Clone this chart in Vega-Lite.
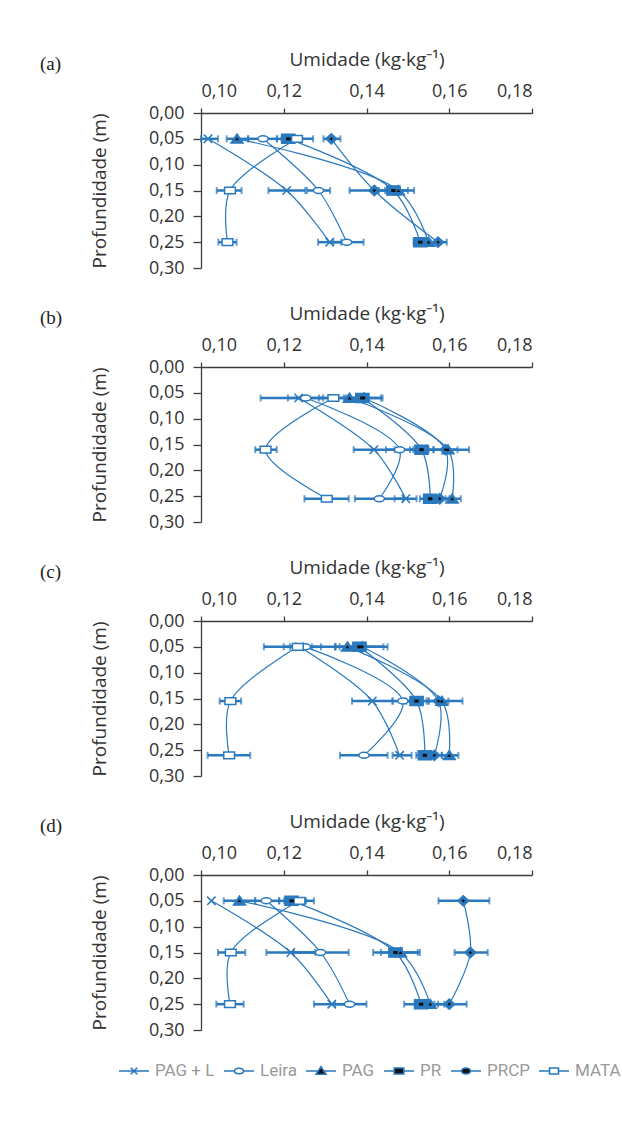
{
  "$schema": "https://vega.github.io/schema/vega-lite/v6.json",
  "padding": {"left": 40, "top": 50, "right": 0, "bottom": 0},
  "spacing": 27,
  "resolve": {"scale": {"shape": "independent", "fill": "independent", "stroke": "independent"}, "legend": {"shape": "independent", "fill": "independent", "stroke": "independent"}},
  "datasets": {
    "d": [
      {"p":"a","t":"PAG + L","d":0.05,"m":0.1017,"lo":0.1000,"hi":0.1041},
      {"p":"a","t":"PAG + L","d":0.15,"m":0.1207,"lo":0.1163,"hi":0.1252},
      {"p":"a","t":"PAG + L","d":0.25,"m":0.1311,"lo":0.1283,"hi":0.1339},
      {"p":"a","t":"Leira","d":0.05,"m":0.1150,"lo":0.1114,"hi":0.1184},
      {"p":"a","t":"Leira","d":0.15,"m":0.1284,"lo":0.1256,"hi":0.1312},
      {"p":"a","t":"Leira","d":0.25,"m":0.1352,"lo":0.1320,"hi":0.1393},
      {"p":"a","t":"PAG","d":0.05,"m":0.1087,"lo":0.1062,"hi":0.1114},
      {"p":"a","t":"PAG","d":0.15,"m":0.1477,"lo":0.1445,"hi":0.1515},
      {"p":"a","t":"PAG","d":0.25,"m":0.1550,"lo":0.1530,"hi":0.1570},
      {"p":"a","t":"PR","d":0.05,"m":0.1211,"lo":0.1183,"hi":0.1240},
      {"p":"a","t":"PR","d":0.15,"m":0.1465,"lo":0.1430,"hi":0.1500},
      {"p":"a","t":"PR","d":0.25,"m":0.1530,"lo":0.1514,"hi":0.1546},
      {"p":"a","t":"PRCP","d":0.05,"m":0.1315,"lo":0.1296,"hi":0.1337},
      {"p":"a","t":"PRCP","d":0.15,"m":0.1419,"lo":0.1359,"hi":0.1480},
      {"p":"a","t":"PRCP","d":0.25,"m":0.1573,"lo":0.1555,"hi":0.1594},
      {"p":"a","t":"MATA","d":0.05,"m":0.1232,"lo":0.1195,"hi":0.1271},
      {"p":"a","t":"MATA","d":0.15,"m":0.1070,"lo":0.1038,"hi":0.1098},
      {"p":"a","t":"MATA","d":0.25,"m":0.1064,"lo":0.1042,"hi":0.1086},

      {"p":"b","t":"PAG + L","d":0.06,"m":0.1236,"lo":0.1144,"hi":0.1328},
      {"p":"b","t":"PAG + L","d":0.16,"m":0.1418,"lo":0.1369,"hi":0.1468},
      {"p":"b","t":"PAG + L","d":0.255,"m":0.1495,"lo":0.1468,"hi":0.1521},
      {"p":"b","t":"Leira","d":0.06,"m":0.1253,"lo":0.1210,"hi":0.1295},
      {"p":"b","t":"Leira","d":0.16,"m":0.1480,"lo":0.1447,"hi":0.1513},
      {"p":"b","t":"Leira","d":0.255,"m":0.1431,"lo":0.1372,"hi":0.1488},
      {"p":"b","t":"PAG","d":0.06,"m":0.1359,"lo":0.1325,"hi":0.1393},
      {"p":"b","t":"PAG","d":0.16,"m":0.1597,"lo":0.1550,"hi":0.1648},
      {"p":"b","t":"PAG","d":0.255,"m":0.1607,"lo":0.1591,"hi":0.1628},
      {"p":"b","t":"PR","d":0.06,"m":0.1390,"lo":0.1345,"hi":0.1435},
      {"p":"b","t":"PR","d":0.16,"m":0.1533,"lo":0.1505,"hi":0.1562},
      {"p":"b","t":"PR","d":0.255,"m":0.1554,"lo":0.1529,"hi":0.1578},
      {"p":"b","t":"PRCP","d":0.06,"m":0.1394,"lo":0.1350,"hi":0.1439},
      {"p":"b","t":"PRCP","d":0.16,"m":0.1591,"lo":0.1562,"hi":0.1620},
      {"p":"b","t":"PRCP","d":0.255,"m":0.1577,"lo":0.1553,"hi":0.1600},
      {"p":"b","t":"MATA","d":0.06,"m":0.1320,"lo":0.1285,"hi":0.1355},
      {"p":"b","t":"MATA","d":0.16,"m":0.1156,"lo":0.1131,"hi":0.1183},
      {"p":"b","t":"MATA","d":0.255,"m":0.1304,"lo":0.1250,"hi":0.1357},

      {"p":"c","t":"PAG + L","d":0.05,"m":0.1238,"lo":0.1152,"hi":0.1324},
      {"p":"c","t":"PAG + L","d":0.155,"m":0.1414,"lo":0.1365,"hi":0.1463},
      {"p":"c","t":"PAG + L","d":0.26,"m":0.1480,"lo":0.1463,"hi":0.1509},
      {"p":"c","t":"Leira","d":0.05,"m":0.1252,"lo":0.1215,"hi":0.1290},
      {"p":"c","t":"Leira","d":0.155,"m":0.1488,"lo":0.1463,"hi":0.1513},
      {"p":"c","t":"Leira","d":0.26,"m":0.1394,"lo":0.1336,"hi":0.1451},
      {"p":"c","t":"PAG","d":0.05,"m":0.1354,"lo":0.1325,"hi":0.1383},
      {"p":"c","t":"PAG","d":0.155,"m":0.1582,"lo":0.1545,"hi":0.1632},
      {"p":"c","t":"PAG","d":0.26,"m":0.1600,"lo":0.1582,"hi":0.1622},
      {"p":"c","t":"PR","d":0.05,"m":0.1383,"lo":0.1325,"hi":0.1441},
      {"p":"c","t":"PR","d":0.155,"m":0.1521,"lo":0.1496,"hi":0.1550},
      {"p":"c","t":"PR","d":0.26,"m":0.1541,"lo":0.1520,"hi":0.1562},
      {"p":"c","t":"PRCP","d":0.05,"m":0.1390,"lo":0.1335,"hi":0.1451},
      {"p":"c","t":"PRCP","d":0.155,"m":0.1574,"lo":0.1550,"hi":0.1598},
      {"p":"c","t":"PRCP","d":0.26,"m":0.1564,"lo":0.1545,"hi":0.1582},
      {"p":"c","t":"MATA","d":0.05,"m":0.1234,"lo":0.1200,"hi":0.1268},
      {"p":"c","t":"MATA","d":0.155,"m":0.1071,"lo":0.1045,"hi":0.1097},
      {"p":"c","t":"MATA","d":0.26,"m":0.1068,"lo":0.1016,"hi":0.1119},

      {"p":"d","t":"PAG + L","d":0.05,"m":0.1025,"lo":null,"hi":null},
      {"p":"d","t":"PAG + L","d":0.15,"m":0.1217,"lo":0.1158,"hi":0.1276},
      {"p":"d","t":"PAG + L","d":0.25,"m":0.1316,"lo":0.1273,"hi":0.1359},
      {"p":"d","t":"Leira","d":0.05,"m":0.1158,"lo":0.1131,"hi":0.1189},
      {"p":"d","t":"Leira","d":0.15,"m":0.1289,"lo":0.1224,"hi":0.1357},
      {"p":"d","t":"Leira","d":0.25,"m":0.1359,"lo":0.1324,"hi":0.1400},
      {"p":"d","t":"PAG","d":0.05,"m":0.1093,"lo":0.1055,"hi":0.1131},
      {"p":"d","t":"PAG","d":0.15,"m":0.1482,"lo":0.1435,"hi":0.1529},
      {"p":"d","t":"PAG","d":0.25,"m":0.1554,"lo":0.1520,"hi":0.1588},
      {"p":"d","t":"PR","d":0.05,"m":0.1219,"lo":0.1189,"hi":0.1254},
      {"p":"d","t":"PR","d":0.15,"m":0.1470,"lo":0.1416,"hi":0.1524},
      {"p":"d","t":"PR","d":0.25,"m":0.1532,"lo":0.1491,"hi":0.1573},
      {"p":"d","t":"PRCP","d":0.05,"m":0.1634,"lo":0.1574,"hi":0.1697},
      {"p":"d","t":"PRCP","d":0.15,"m":0.1651,"lo":0.1613,"hi":0.1693},
      {"p":"d","t":"PRCP","d":0.25,"m":0.1600,"lo":0.1564,"hi":0.1642},
      {"p":"d","t":"MATA","d":0.05,"m":0.1238,"lo":0.1201,"hi":0.1273},
      {"p":"d","t":"MATA","d":0.15,"m":0.1072,"lo":0.1041,"hi":0.1107},
      {"p":"d","t":"MATA","d":0.25,"m":0.1070,"lo":0.1037,"hi":0.1103}
    ]
  },
  "vconcat": [
    {
      "title": {"text": "(a)"},
      "width": 331, "height": 155,
      "data": {"name": "d"},
      "transform": [{"filter": "datum.p === 'a'"}],
      "encoding": {
        "y": {"field": "d", "type": "quantitative", "scale": {"domain": [0, 0.3], "reverse": true, "nice": false, "zero": false},
          "axis": {"title": "Profundidade (m)", "values": [0, 0.05, 0.1, 0.15, 0.2, 0.25, 0.3], "labelExpr": "replace(format(datum.value, '.2f'), '.', ',')", "tickSize": 8, "labelPadding": 9, "titlePadding": 39}}
      },
      "layer": [
        {"mark": {"type": "line", "interpolate": "catmull-rom", "color": "#2a78bd", "strokeWidth": 1.2},
         "encoding": {"x": {"field": "m", "type": "quantitative", "scale": {"domain": [0.1, 0.18], "nice": false, "zero": false}, "axis": {"orient": "top", "title": "Umidade (kg·kg⁻¹)", "values": [0.1, 0.12, 0.14, 0.16, 0.18], "labelExpr": "replace(format(datum.value, '.2f'), '.', ',')", "tickSize": 5, "labelPadding": 8, "titlePadding": 13}},
           "detail": {"field": "t"}, "order": {"field": "d", "type": "quantitative"}}},
        {"mark": {"type": "rule", "color": "#2a78bd", "strokeWidth": 2.5},
         "encoding": {"x": {"field": "lo", "type": "quantitative", "scale": {"domain": [0.1, 0.18], "nice": false, "zero": false}, "axis": {"orient": "top", "title": "Umidade (kg·kg⁻¹)", "values": [0.1, 0.12, 0.14, 0.16, 0.18], "labelExpr": "replace(format(datum.value, '.2f'), '.', ',')", "tickSize": 5, "labelPadding": 8, "titlePadding": 13}}, "x2": {"field": "hi"}}},
        {"mark": {"type": "tick", "orient": "vertical", "color": "#2a78bd", "thickness": 2, "size": 7},
         "encoding": {"x": {"field": "lo", "type": "quantitative", "scale": {"domain": [0.1, 0.18], "nice": false, "zero": false}, "axis": {"orient": "top", "title": "Umidade (kg·kg⁻¹)", "values": [0.1, 0.12, 0.14, 0.16, 0.18], "labelExpr": "replace(format(datum.value, '.2f'), '.', ',')", "tickSize": 5, "labelPadding": 8, "titlePadding": 13}}}},
        {"mark": {"type": "tick", "orient": "vertical", "color": "#2a78bd", "thickness": 2, "size": 7},
         "encoding": {"x": {"field": "hi", "type": "quantitative", "scale": {"domain": [0.1, 0.18], "nice": false, "zero": false}, "axis": {"orient": "top", "title": "Umidade (kg·kg⁻¹)", "values": [0.1, 0.12, 0.14, 0.16, 0.18], "labelExpr": "replace(format(datum.value, '.2f'), '.', ',')", "tickSize": 5, "labelPadding": 8, "titlePadding": 13}}}},
        {"mark": {"type": "point", "filled": true, "stroke": "#2a78bd", "strokeWidth": 1.5, "opacity": 1, "size": 144},
         "encoding": {
           "x": {"field": "m", "type": "quantitative", "scale": {"domain": [0.1, 0.18], "nice": false, "zero": false}, "axis": {"orient": "top", "title": "Umidade (kg·kg⁻¹)", "values": [0.1, 0.12, 0.14, 0.16, 0.18], "labelExpr": "replace(format(datum.value, '.2f'), '.', ',')", "tickSize": 5, "labelPadding": 8, "titlePadding": 13}},
           "shape": {"field": "t", "type": "nominal", "scale": {"domain": ["PAG + L", "Leira", "PAG", "PR", "PRCP", "MATA"], "range": ["M-0.7,-0.7L0.7,0.7M-0.7,0.7L0.7,-0.7", "M-0.85,0A0.85,0.5 0 1,1 0.85,0A0.85,0.5 0 1,1 -0.85,0Z", "M0,-0.8L1,0.7L-1,0.7Z", "M-1.1,-0.75H1.1V0.75H-1.1Z", "M0,-0.85L0.9,0L0,0.85L-0.9,0Z", "M-0.9,-0.55H0.9V0.55H-0.9Z"]}, "legend": null},
           "fill": {"field": "t", "type": "nominal", "scale": {"domain": ["PAG + L", "Leira", "PAG", "PR", "PRCP", "MATA"], "range": ["#ffffff", "#ffffff", "#2a78bd", "#2a78bd", "#2a78bd", "#ffffff"]}, "legend": null}
         }},
        {"transform": [{"filter": "datum.t === 'PAG' || datum.t === 'PR' || datum.t === 'PRCP'"}],
         "mark": {"type": "point", "filled": true, "color": "#111111", "opacity": 1, "size": 16},
         "encoding": {"x": {"field": "m", "type": "quantitative", "scale": {"domain": [0.1, 0.18], "nice": false, "zero": false}, "axis": {"orient": "top", "title": "Umidade (kg·kg⁻¹)", "values": [0.1, 0.12, 0.14, 0.16, 0.18], "labelExpr": "replace(format(datum.value, '.2f'), '.', ',')", "tickSize": 5, "labelPadding": 8, "titlePadding": 13}},
           "shape": {"field": "t", "type": "nominal", "scale": {"domain": ["PAG + L", "Leira", "PAG", "PR", "PRCP", "MATA"], "range": ["M-0.7,-0.7L0.7,0.7M-0.7,0.7L0.7,-0.7", "M-0.85,0A0.85,0.5 0 1,1 0.85,0A0.85,0.5 0 1,1 -0.85,0Z", "M0,-0.8L1,0.7L-1,0.7Z", "M-1.1,-0.75H1.1V0.75H-1.1Z", "M0,-0.85L0.9,0L0,0.85L-0.9,0Z", "M-0.9,-0.55H0.9V0.55H-0.9Z"]}, "legend": null}}}
      ]
    },
    {
      "title": {"text": "(b)"},
      "width": 331, "height": 155,
      "data": {"name": "d"},
      "transform": [{"filter": "datum.p === 'b'"}],
      "encoding": {
        "y": {"field": "d", "type": "quantitative", "scale": {"domain": [0, 0.3], "reverse": true, "nice": false, "zero": false},
          "axis": {"title": "Profundidade (m)", "values": [0, 0.05, 0.1, 0.15, 0.2, 0.25, 0.3], "labelExpr": "replace(format(datum.value, '.2f'), '.', ',')", "tickSize": 8, "labelPadding": 9, "titlePadding": 39}}
      },
      "layer": [
        {"mark": {"type": "line", "interpolate": "catmull-rom", "color": "#2a78bd", "strokeWidth": 1.2},
         "encoding": {"x": {"field": "m", "type": "quantitative", "scale": {"domain": [0.1, 0.18], "nice": false, "zero": false}, "axis": {"orient": "top", "title": "Umidade (kg·kg⁻¹)", "values": [0.1, 0.12, 0.14, 0.16, 0.18], "labelExpr": "replace(format(datum.value, '.2f'), '.', ',')", "tickSize": 5, "labelPadding": 8, "titlePadding": 13}},
           "detail": {"field": "t"}, "order": {"field": "d", "type": "quantitative"}}},
        {"mark": {"type": "rule", "color": "#2a78bd", "strokeWidth": 2.5},
         "encoding": {"x": {"field": "lo", "type": "quantitative", "scale": {"domain": [0.1, 0.18], "nice": false, "zero": false}, "axis": {"orient": "top", "title": "Umidade (kg·kg⁻¹)", "values": [0.1, 0.12, 0.14, 0.16, 0.18], "labelExpr": "replace(format(datum.value, '.2f'), '.', ',')", "tickSize": 5, "labelPadding": 8, "titlePadding": 13}}, "x2": {"field": "hi"}}},
        {"mark": {"type": "tick", "orient": "vertical", "color": "#2a78bd", "thickness": 2, "size": 7},
         "encoding": {"x": {"field": "lo", "type": "quantitative", "scale": {"domain": [0.1, 0.18], "nice": false, "zero": false}, "axis": {"orient": "top", "title": "Umidade (kg·kg⁻¹)", "values": [0.1, 0.12, 0.14, 0.16, 0.18], "labelExpr": "replace(format(datum.value, '.2f'), '.', ',')", "tickSize": 5, "labelPadding": 8, "titlePadding": 13}}}},
        {"mark": {"type": "tick", "orient": "vertical", "color": "#2a78bd", "thickness": 2, "size": 7},
         "encoding": {"x": {"field": "hi", "type": "quantitative", "scale": {"domain": [0.1, 0.18], "nice": false, "zero": false}, "axis": {"orient": "top", "title": "Umidade (kg·kg⁻¹)", "values": [0.1, 0.12, 0.14, 0.16, 0.18], "labelExpr": "replace(format(datum.value, '.2f'), '.', ',')", "tickSize": 5, "labelPadding": 8, "titlePadding": 13}}}},
        {"mark": {"type": "point", "filled": true, "stroke": "#2a78bd", "strokeWidth": 1.5, "opacity": 1, "size": 144},
         "encoding": {
           "x": {"field": "m", "type": "quantitative", "scale": {"domain": [0.1, 0.18], "nice": false, "zero": false}, "axis": {"orient": "top", "title": "Umidade (kg·kg⁻¹)", "values": [0.1, 0.12, 0.14, 0.16, 0.18], "labelExpr": "replace(format(datum.value, '.2f'), '.', ',')", "tickSize": 5, "labelPadding": 8, "titlePadding": 13}},
           "shape": {"field": "t", "type": "nominal", "scale": {"domain": ["PAG + L", "Leira", "PAG", "PR", "PRCP", "MATA"], "range": ["M-0.7,-0.7L0.7,0.7M-0.7,0.7L0.7,-0.7", "M-0.85,0A0.85,0.5 0 1,1 0.85,0A0.85,0.5 0 1,1 -0.85,0Z", "M0,-0.8L1,0.7L-1,0.7Z", "M-1.1,-0.75H1.1V0.75H-1.1Z", "M0,-0.85L0.9,0L0,0.85L-0.9,0Z", "M-0.9,-0.55H0.9V0.55H-0.9Z"]}, "legend": null},
           "fill": {"field": "t", "type": "nominal", "scale": {"domain": ["PAG + L", "Leira", "PAG", "PR", "PRCP", "MATA"], "range": ["#ffffff", "#ffffff", "#2a78bd", "#2a78bd", "#2a78bd", "#ffffff"]}, "legend": null}
         }},
        {"transform": [{"filter": "datum.t === 'PAG' || datum.t === 'PR' || datum.t === 'PRCP'"}],
         "mark": {"type": "point", "filled": true, "color": "#111111", "opacity": 1, "size": 16},
         "encoding": {"x": {"field": "m", "type": "quantitative", "scale": {"domain": [0.1, 0.18], "nice": false, "zero": false}, "axis": {"orient": "top", "title": "Umidade (kg·kg⁻¹)", "values": [0.1, 0.12, 0.14, 0.16, 0.18], "labelExpr": "replace(format(datum.value, '.2f'), '.', ',')", "tickSize": 5, "labelPadding": 8, "titlePadding": 13}},
           "shape": {"field": "t", "type": "nominal", "scale": {"domain": ["PAG + L", "Leira", "PAG", "PR", "PRCP", "MATA"], "range": ["M-0.7,-0.7L0.7,0.7M-0.7,0.7L0.7,-0.7", "M-0.85,0A0.85,0.5 0 1,1 0.85,0A0.85,0.5 0 1,1 -0.85,0Z", "M0,-0.8L1,0.7L-1,0.7Z", "M-1.1,-0.75H1.1V0.75H-1.1Z", "M0,-0.85L0.9,0L0,0.85L-0.9,0Z", "M-0.9,-0.55H0.9V0.55H-0.9Z"]}, "legend": null}}}
      ]
    },
    {
      "title": {"text": "(c)"},
      "width": 331, "height": 155,
      "data": {"name": "d"},
      "transform": [{"filter": "datum.p === 'c'"}],
      "encoding": {
        "y": {"field": "d", "type": "quantitative", "scale": {"domain": [0, 0.3], "reverse": true, "nice": false, "zero": false},
          "axis": {"title": "Profundidade (m)", "values": [0, 0.05, 0.1, 0.15, 0.2, 0.25, 0.3], "labelExpr": "replace(format(datum.value, '.2f'), '.', ',')", "tickSize": 8, "labelPadding": 9, "titlePadding": 39}}
      },
      "layer": [
        {"mark": {"type": "line", "interpolate": "catmull-rom", "color": "#2a78bd", "strokeWidth": 1.2},
         "encoding": {"x": {"field": "m", "type": "quantitative", "scale": {"domain": [0.1, 0.18], "nice": false, "zero": false}, "axis": {"orient": "top", "title": "Umidade (kg·kg⁻¹)", "values": [0.1, 0.12, 0.14, 0.16, 0.18], "labelExpr": "replace(format(datum.value, '.2f'), '.', ',')", "tickSize": 5, "labelPadding": 8, "titlePadding": 13}},
           "detail": {"field": "t"}, "order": {"field": "d", "type": "quantitative"}}},
        {"mark": {"type": "rule", "color": "#2a78bd", "strokeWidth": 2.5},
         "encoding": {"x": {"field": "lo", "type": "quantitative", "scale": {"domain": [0.1, 0.18], "nice": false, "zero": false}, "axis": {"orient": "top", "title": "Umidade (kg·kg⁻¹)", "values": [0.1, 0.12, 0.14, 0.16, 0.18], "labelExpr": "replace(format(datum.value, '.2f'), '.', ',')", "tickSize": 5, "labelPadding": 8, "titlePadding": 13}}, "x2": {"field": "hi"}}},
        {"mark": {"type": "tick", "orient": "vertical", "color": "#2a78bd", "thickness": 2, "size": 7},
         "encoding": {"x": {"field": "lo", "type": "quantitative", "scale": {"domain": [0.1, 0.18], "nice": false, "zero": false}, "axis": {"orient": "top", "title": "Umidade (kg·kg⁻¹)", "values": [0.1, 0.12, 0.14, 0.16, 0.18], "labelExpr": "replace(format(datum.value, '.2f'), '.', ',')", "tickSize": 5, "labelPadding": 8, "titlePadding": 13}}}},
        {"mark": {"type": "tick", "orient": "vertical", "color": "#2a78bd", "thickness": 2, "size": 7},
         "encoding": {"x": {"field": "hi", "type": "quantitative", "scale": {"domain": [0.1, 0.18], "nice": false, "zero": false}, "axis": {"orient": "top", "title": "Umidade (kg·kg⁻¹)", "values": [0.1, 0.12, 0.14, 0.16, 0.18], "labelExpr": "replace(format(datum.value, '.2f'), '.', ',')", "tickSize": 5, "labelPadding": 8, "titlePadding": 13}}}},
        {"mark": {"type": "point", "filled": true, "stroke": "#2a78bd", "strokeWidth": 1.5, "opacity": 1, "size": 144},
         "encoding": {
           "x": {"field": "m", "type": "quantitative", "scale": {"domain": [0.1, 0.18], "nice": false, "zero": false}, "axis": {"orient": "top", "title": "Umidade (kg·kg⁻¹)", "values": [0.1, 0.12, 0.14, 0.16, 0.18], "labelExpr": "replace(format(datum.value, '.2f'), '.', ',')", "tickSize": 5, "labelPadding": 8, "titlePadding": 13}},
           "shape": {"field": "t", "type": "nominal", "scale": {"domain": ["PAG + L", "Leira", "PAG", "PR", "PRCP", "MATA"], "range": ["M-0.7,-0.7L0.7,0.7M-0.7,0.7L0.7,-0.7", "M-0.85,0A0.85,0.5 0 1,1 0.85,0A0.85,0.5 0 1,1 -0.85,0Z", "M0,-0.8L1,0.7L-1,0.7Z", "M-1.1,-0.75H1.1V0.75H-1.1Z", "M0,-0.85L0.9,0L0,0.85L-0.9,0Z", "M-0.9,-0.55H0.9V0.55H-0.9Z"]}, "legend": null},
           "fill": {"field": "t", "type": "nominal", "scale": {"domain": ["PAG + L", "Leira", "PAG", "PR", "PRCP", "MATA"], "range": ["#ffffff", "#ffffff", "#2a78bd", "#2a78bd", "#2a78bd", "#ffffff"]}, "legend": null}
         }},
        {"transform": [{"filter": "datum.t === 'PAG' || datum.t === 'PR' || datum.t === 'PRCP'"}],
         "mark": {"type": "point", "filled": true, "color": "#111111", "opacity": 1, "size": 16},
         "encoding": {"x": {"field": "m", "type": "quantitative", "scale": {"domain": [0.1, 0.18], "nice": false, "zero": false}, "axis": {"orient": "top", "title": "Umidade (kg·kg⁻¹)", "values": [0.1, 0.12, 0.14, 0.16, 0.18], "labelExpr": "replace(format(datum.value, '.2f'), '.', ',')", "tickSize": 5, "labelPadding": 8, "titlePadding": 13}},
           "shape": {"field": "t", "type": "nominal", "scale": {"domain": ["PAG + L", "Leira", "PAG", "PR", "PRCP", "MATA"], "range": ["M-0.7,-0.7L0.7,0.7M-0.7,0.7L0.7,-0.7", "M-0.85,0A0.85,0.5 0 1,1 0.85,0A0.85,0.5 0 1,1 -0.85,0Z", "M0,-0.8L1,0.7L-1,0.7Z", "M-1.1,-0.75H1.1V0.75H-1.1Z", "M0,-0.85L0.9,0L0,0.85L-0.9,0Z", "M-0.9,-0.55H0.9V0.55H-0.9Z"]}, "legend": null}}}
      ]
    },
    {
      "title": {"text": "(d)"},
      "width": 331, "height": 155,
      "data": {"name": "d"},
      "transform": [{"filter": "datum.p === 'd'"}],
      "resolve": {"scale": {"shape": "independent", "fill": "independent", "stroke": "independent"}},
      "encoding": {
        "y": {"field": "d", "type": "quantitative", "scale": {"domain": [0, 0.3], "reverse": true, "nice": false, "zero": false},
          "axis": {"title": "Profundidade (m)", "values": [0, 0.05, 0.1, 0.15, 0.2, 0.25, 0.3], "labelExpr": "replace(format(datum.value, '.2f'), '.', ',')", "tickSize": 8, "labelPadding": 9, "titlePadding": 39}}
      },
      "layer": [
        {"mark": {"type": "line", "interpolate": "catmull-rom", "color": "#2a78bd", "strokeWidth": 1.2},
         "encoding": {"x": {"field": "m", "type": "quantitative", "scale": {"domain": [0.1, 0.18], "nice": false, "zero": false}, "axis": {"orient": "top", "title": "Umidade (kg·kg⁻¹)", "values": [0.1, 0.12, 0.14, 0.16, 0.18], "labelExpr": "replace(format(datum.value, '.2f'), '.', ',')", "tickSize": 5, "labelPadding": 8, "titlePadding": 13}},
           "detail": {"field": "t"}, "order": {"field": "d", "type": "quantitative"}}},
        {"mark": {"type": "rule", "color": "#2a78bd", "strokeWidth": 2.5},
         "encoding": {"x": {"field": "lo", "type": "quantitative", "scale": {"domain": [0.1, 0.18], "nice": false, "zero": false}, "axis": {"orient": "top", "title": "Umidade (kg·kg⁻¹)", "values": [0.1, 0.12, 0.14, 0.16, 0.18], "labelExpr": "replace(format(datum.value, '.2f'), '.', ',')", "tickSize": 5, "labelPadding": 8, "titlePadding": 13}}, "x2": {"field": "hi"}}},
        {"mark": {"type": "tick", "orient": "vertical", "color": "#2a78bd", "thickness": 2, "size": 7},
         "encoding": {"x": {"field": "lo", "type": "quantitative", "scale": {"domain": [0.1, 0.18], "nice": false, "zero": false}, "axis": {"orient": "top", "title": "Umidade (kg·kg⁻¹)", "values": [0.1, 0.12, 0.14, 0.16, 0.18], "labelExpr": "replace(format(datum.value, '.2f'), '.', ',')", "tickSize": 5, "labelPadding": 8, "titlePadding": 13}}}},
        {"mark": {"type": "tick", "orient": "vertical", "color": "#2a78bd", "thickness": 2, "size": 7},
         "encoding": {"x": {"field": "hi", "type": "quantitative", "scale": {"domain": [0.1, 0.18], "nice": false, "zero": false}, "axis": {"orient": "top", "title": "Umidade (kg·kg⁻¹)", "values": [0.1, 0.12, 0.14, 0.16, 0.18], "labelExpr": "replace(format(datum.value, '.2f'), '.', ',')", "tickSize": 5, "labelPadding": 8, "titlePadding": 13}}}},
        {"mark": {"type": "point", "filled": true, "stroke": "#2a78bd", "strokeWidth": 1.5, "opacity": 1, "size": 144},
         "encoding": {
           "x": {"field": "m", "type": "quantitative", "scale": {"domain": [0.1, 0.18], "nice": false, "zero": false}, "axis": {"orient": "top", "title": "Umidade (kg·kg⁻¹)", "values": [0.1, 0.12, 0.14, 0.16, 0.18], "labelExpr": "replace(format(datum.value, '.2f'), '.', ',')", "tickSize": 5, "labelPadding": 8, "titlePadding": 13}},
           "shape": {"field": "t", "type": "nominal", "scale": {"domain": ["PAG + L", "Leira", "PAG", "PR", "PRCP", "MATA"], "range": ["M-0.7,-0.7L0.7,0.7M-0.7,0.7L0.7,-0.7", "M-0.85,0A0.85,0.5 0 1,1 0.85,0A0.85,0.5 0 1,1 -0.85,0Z", "M0,-0.8L1,0.7L-1,0.7Z", "M-1.1,-0.75H1.1V0.75H-1.1Z", "M0,-0.85L0.9,0L0,0.85L-0.9,0Z", "M-0.9,-0.55H0.9V0.55H-0.9Z"]}, "legend": null},
           "fill": {"field": "t", "type": "nominal", "scale": {"domain": ["PAG + L", "Leira", "PAG", "PR", "PRCP", "MATA"], "range": ["#ffffff", "#ffffff", "#2a78bd", "#2a78bd", "#2a78bd", "#ffffff"]}, "legend": null}
         }},
        {"transform": [{"filter": "datum.t === 'PAG' || datum.t === 'PR' || datum.t === 'PRCP'"}],
         "mark": {"type": "point", "filled": true, "color": "#111111", "opacity": 1, "size": 16},
         "encoding": {"x": {"field": "m", "type": "quantitative", "scale": {"domain": [0.1, 0.18], "nice": false, "zero": false}, "axis": {"orient": "top", "title": "Umidade (kg·kg⁻¹)", "values": [0.1, 0.12, 0.14, 0.16, 0.18], "labelExpr": "replace(format(datum.value, '.2f'), '.', ',')", "tickSize": 5, "labelPadding": 8, "titlePadding": 13}},
           "shape": {"field": "t", "type": "nominal", "scale": {"domain": ["PAG + L", "Leira", "PAG", "PR", "PRCP", "MATA"], "range": ["M-0.7,-0.7L0.7,0.7M-0.7,0.7L0.7,-0.7", "M-0.85,0A0.85,0.5 0 1,1 0.85,0A0.85,0.5 0 1,1 -0.85,0Z", "M0,-0.8L1,0.7L-1,0.7Z", "M-1.1,-0.75H1.1V0.75H-1.1Z", "M0,-0.85L0.9,0L0,0.85L-0.9,0Z", "M-0.9,-0.55H0.9V0.55H-0.9Z"]}, "legend": null}}},
        {"transform": [{"filter": "datum.t === 'none'"}],
         "mark": {"type": "point", "filled": true, "strokeWidth": 1.6, "opacity": 1},
         "encoding": {"x": {"field": "m", "type": "quantitative", "scale": {"domain": [0.1, 0.18], "nice": false, "zero": false}, "axis": {"orient": "top", "title": "Umidade (kg·kg⁻¹)", "values": [0.1, 0.12, 0.14, 0.16, 0.18], "labelExpr": "replace(format(datum.value, '.2f'), '.', ',')", "tickSize": 5, "labelPadding": 8, "titlePadding": 13}},
           "shape": {"field": "t", "type": "nominal", "scale": {"domain": ["PAG + L", "Leira", "PAG", "PR", "PRCP", "MATA"], "range": ["M-1,0H1M-0.22,-0.22L0.22,0.22M-0.22,0.22L0.22,-0.22", "M-1,0H-0.3M0.3,0H1M-0.3,0A0.3,0.18 0 1,1 0.3,0A0.3,0.18 0 1,1 -0.3,0Z", "M-1,0H-0.2M0.2,0H1M0,-0.28L0.33,0.22H-0.33Z", "M-1,0H-0.32M0.32,0H1M-0.32,-0.2H0.32V0.2H-0.32Z", "M-1,0H-0.3M0.3,0H1M-0.3,0A0.3,0.2 0 1,1 0.3,0A0.3,0.2 0 1,1 -0.3,0Z", "M-1,0H-0.3M0.3,0H1M-0.3,-0.2H0.3V0.2H-0.3Z"]},
             "legend": {"title": null, "orient": "none", "legendX": -83, "legendY": 180, "direction": "horizontal", "symbolSize": 900, "symbolStrokeWidth": 1.6, "labelFont": "Roboto", "labelFontSize": 17, "labelColor": "#999999", "labelOffset": 5, "columnPadding": 5}},
           "fill": {"field": "t", "type": "nominal", "scale": {"domain": ["PAG + L", "Leira", "PAG", "PR", "PRCP", "MATA"], "range": ["#ffffff", "#ffffff", "#111111", "#111111", "#111111", "#ffffff"]},
             "legend": {"title": null, "orient": "none", "legendX": -83, "legendY": 180, "direction": "horizontal", "symbolSize": 900, "symbolStrokeWidth": 1.6, "labelFont": "Roboto", "labelFontSize": 17, "labelColor": "#999999", "labelOffset": 5, "columnPadding": 5}},
           "stroke": {"field": "t", "type": "nominal", "scale": {"domain": ["PAG + L", "Leira", "PAG", "PR", "PRCP", "MATA"], "range": ["#2a78bd", "#2a78bd", "#2a78bd", "#2a78bd", "#2a78bd", "#2a78bd"]},
             "legend": {"title": null, "orient": "none", "legendX": -83, "legendY": 180, "direction": "horizontal", "symbolSize": 900, "symbolStrokeWidth": 1.6, "labelFont": "Roboto", "labelFontSize": 17, "labelColor": "#999999", "labelOffset": 5, "columnPadding": 5}}
         }}
      ]
    }
  ],
  "config": {
    "view": {"stroke": null},
    "font": "Open Sans",
    "axis": {"grid": false, "domainColor": "#3c3c3c", "domainWidth": 1.3, "tickColor": "#3c3c3c", "tickWidth": 1.3, "labelFont": "Open Sans", "labelFontSize": 18, "labelColor": "#333333", "titleFont": "Open Sans", "titleFontSize": 19, "titleFontWeight": "normal", "titleColor": "#333333"},
    "title": {"font": "Liberation Serif", "fontSize": 19, "fontWeight": "normal", "color": "#222222", "anchor": "start", "frame": "group", "dx": -161, "dy": 28}
  }
}
